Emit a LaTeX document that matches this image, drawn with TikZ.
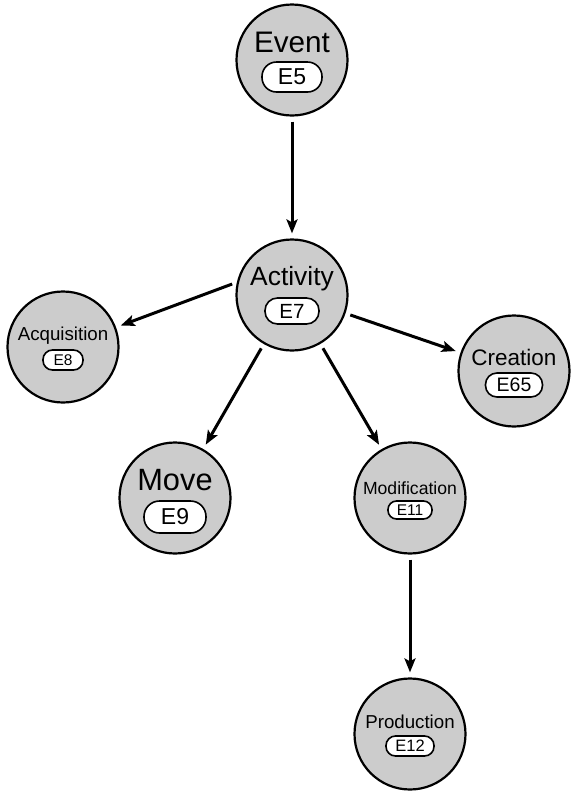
\documentclass[tikz,border=0pt]{standalone}
\usepackage{fontspec}
\setmainfont{Liberation Sans}
\usetikzlibrary{arrows.meta}
\definecolor{cfill}{RGB}{204,204,204}
\tikzset{
  circ/.style={circle, draw=black, line width=2.2pt, fill=cfill, minimum size=111pt, inner sep=0pt},
  title/.style={inner sep=0pt, anchor=center},
  pill/.style={draw=black, fill=white, line width=1.6pt, inner sep=0pt, anchor=center},
  conn/.style={line width=3pt, -{Stealth[length=14pt,width=11pt,inset=3pt]}, shorten <=5pt, shorten >=5pt}
}
\newcommand{\pillnode}[6]{% name, x, y, w, h, text with size
  \node[pill, minimum width=#4pt, minimum height=#5pt, rounded corners=#5pt/2-0.5pt] (#1) at (#2,#3) {#6};}
\begin{document}
\begin{tikzpicture}[x=1pt,y=-1pt]
\useasboundingbox (0,0) rectangle (577,796);
% circles
\node[circ] (event) at (292,60) {};
\node[circ] (activity) at (292,295) {};
\node[circ] (acq) at (63,347) {};
\node[circ] (creation) at (514,371) {};
\node[circ] (move) at (175,498) {};
\node[circ] (modif) at (410,498) {};
\node[circ] (prod) at (410,734) {};
% titles
\node[title, font=\fontsize{29.7}{29.7}\selectfont] (tEvent) at (292,42) {Event};
\node[title, font=\fontsize{26.4}{26.4}\selectfont] (tActivity) at (292,279) {Activity};
\node[title, font=\fontsize{18.7}{18.7}\selectfont] (tAcq) at (63,336) {Acquisition};
\node[title, font=\fontsize{22.5}{22.5}\selectfont] (tCreation) at (514,357) {Creation};
\node[title, font=\fontsize{30.8}{30.8}\selectfont] (tMove) at (175,480) {Move};
\node[title, font=\fontsize{17.6}{17.6}\selectfont] (tModif) at (410,488) {Modification};
\node[title, font=\fontsize{18.7}{18.7}\selectfont] (tProd) at (410,722) {Production};
% pills
\pillnode{pEvent}{292}{77}{60}{30}{\fontsize{23}{23}\selectfont E5}
\pillnode{pActivity}{292}{311}{54}{26}{\fontsize{20.5}{20.5}\selectfont E7}
\pillnode{pAcq}{63}{360}{40}{20}{\fontsize{15.5}{15.5}\selectfont E8}
\pillnode{pCreation}{514}{385}{57}{24}{\fontsize{19.5}{19.5}\selectfont E65}
\pillnode{pMove}{175}{517}{62}{32}{\fontsize{23}{23}\selectfont E9}
\pillnode{pModif}{410}{510}{44}{18}{\fontsize{15.5}{15.5}\selectfont E11}
\pillnode{pProd}{410}{746}{48}{20}{\fontsize{16.5}{16.5}\selectfont E12}
% connectors
\draw[conn] (event) -- (activity);
\draw[conn] (activity.{180-12.3}) -- (acq);
\draw[conn] (activity) -- (creation);
\draw[conn] (activity) -- (move);
\draw[conn] (activity) -- (modif);
\draw[conn] (modif) -- (prod);
\end{tikzpicture}
\end{document}
